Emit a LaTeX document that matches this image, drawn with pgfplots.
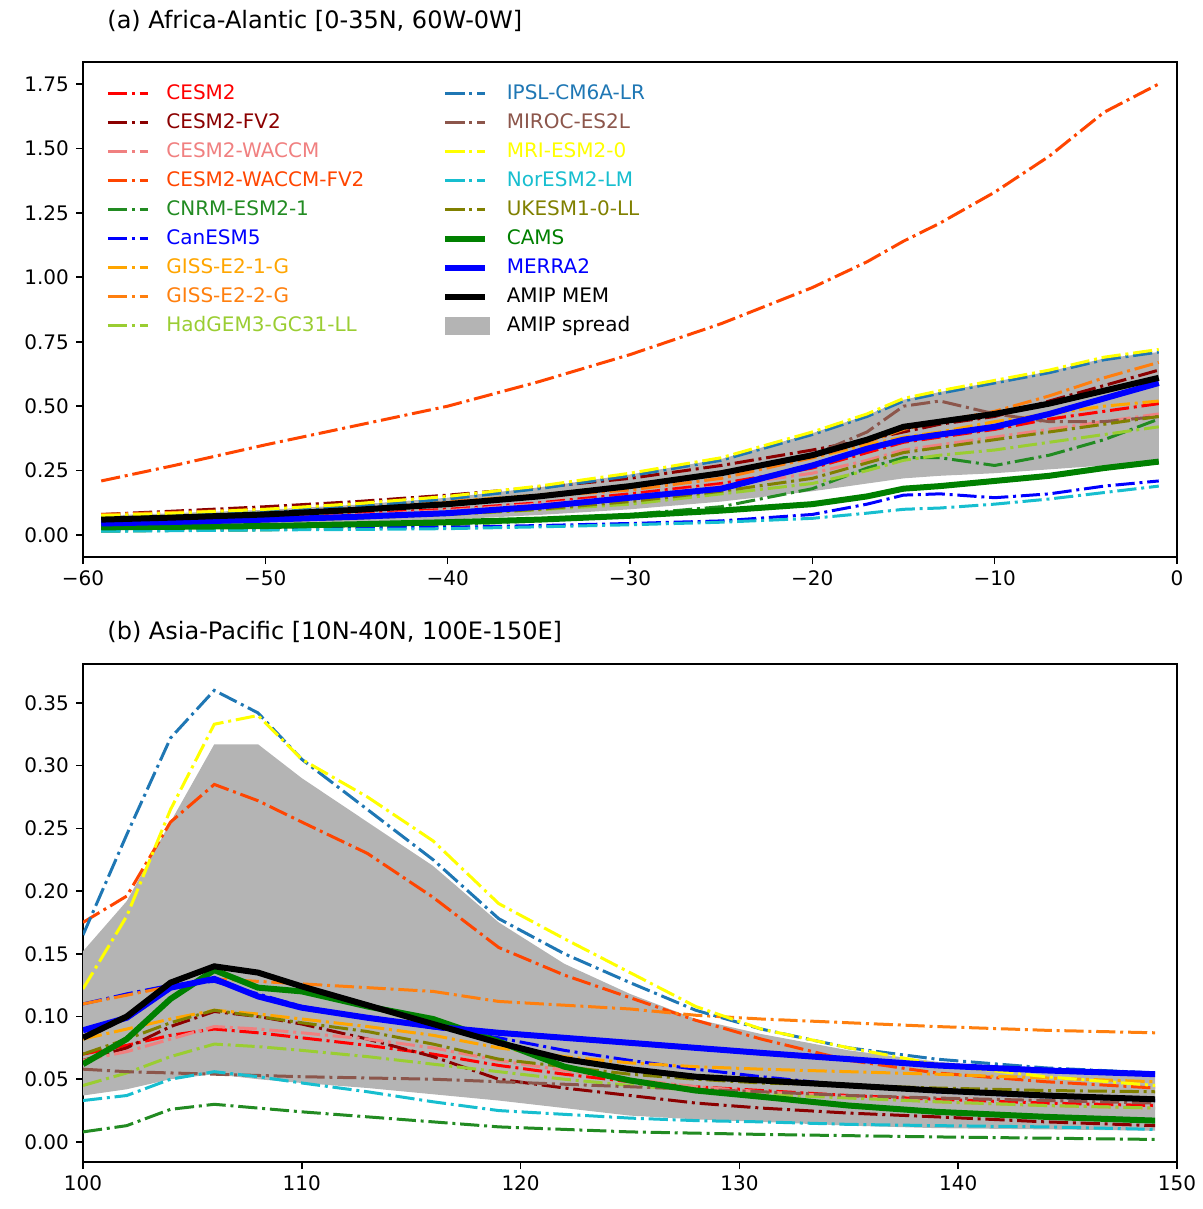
\documentclass[border=0pt]{standalone}
\usepackage{pgfplots}
\pgfplotsset{compat=1.18}
\usepackage{pgfplotstable}
\usepgfplotslibrary{fillbetween}
\usepackage{fontspec}
\setmainfont{DejaVu Sans}

\definecolor{cCESM}{HTML}{FF0000}
\definecolor{cFV}{HTML}{8B0000}
\definecolor{cWAC}{HTML}{F08080}
\definecolor{cWFV}{HTML}{FF4500}
\definecolor{cCNRM}{HTML}{228B22}
\definecolor{cCAN}{HTML}{0000FF}
\definecolor{cG1}{HTML}{FFA500}
\definecolor{cG2}{HTML}{FF7F0E}
\definecolor{cHAD}{HTML}{9ACD32}
\definecolor{cIPSL}{HTML}{1F77B4}
\definecolor{cMIROC}{HTML}{8C564B}
\definecolor{cMRI}{HTML}{FFFF00}
\definecolor{cNOR}{HTML}{17BECF}
\definecolor{cUK}{HTML}{808000}
\definecolor{cCAMS}{HTML}{008000}
\definecolor{cMERRA}{HTML}{0000FF}
\definecolor{cSPREAD}{HTML}{B4B4B4}

\pgfplotstableread{
x cesm2 fv2 waccm wfv2 cnrm canesm g1 g2 had ipsl miroc mri nor uk cams merra mem lo hi
-59 .050 .080 .050 .210 .015 .020 .070 .080 .040 .070 .060 .075 .015 .040 .030 .045 .060 .030 .075
-55 .058 .093 .056 .270 .018 .022 .078 .088 .046 .078 .068 .085 .017 .046 .032 .051 .068 .033 .085
-50 .070 .110 .065 .350 .020 .025 .090 .100 .055 .090 .080 .100 .020 .055 .035 .060 .080 .040 .098
-45 .083 .130 .078 .425 .030 .028 .108 .114 .066 .110 .098 .122 .022 .066 .042 .071 .098 .048 .118
-40 .100 .155 .095 .500 .040 .030 .130 .130 .080 .140 .120 .150 .025 .080 .050 .085 .120 .060 .145
-35 .125 .185 .120 .595 .055 .037 .155 .150 .098 .180 .150 .190 .032 .100 .060 .110 .150 .078 .185
-30 .160 .220 .150 .700 .080 .045 .190 .175 .120 .230 .190 .240 .040 .130 .075 .145 .190 .100 .235
-25 .200 .270 .190 .820 .110 .055 .240 .220 .160 .290 .240 .300 .050 .170 .095 .180 .240 .130 .295
-20 .260 .330 .240 .960 .180 .080 .300 .300 .200 .390 .310 .400 .065 .220 .120 .270 .310 .170 .395
-17 .320 .370 .290 1.060 .260 .120 .350 .360 .250 .460 .400 .470 .085 .280 .150 .335 .370 .200 .465
-15 .360 .400 .330 1.140 .300 .155 .380 .410 .290 .520 .500 .530 .100 .320 .180 .370 .420 .220 .525
-13 .380 .430 .350 1.210 .300 .160 .400 .440 .310 .550 .520 .560 .105 .340 .190 .390 .440 .230 .555
-10 .410 .460 .380 1.330 .270 .145 .440 .480 .330 .590 .470 .600 .120 .370 .210 .420 .470 .240 .595
-7 .450 .520 .410 1.470 .310 .160 .470 .540 .360 .630 .440 .640 .140 .400 .230 .470 .510 .255 .635
-4 .480 .580 .440 1.640 .370 .190 .500 .610 .390 .680 .440 .690 .165 .430 .260 .530 .560 .270 .685
-1 .510 .640 .470 1.750 .450 .210 .520 .670 .420 .710 .460 .720 .190 .460 .285 .590 .610 .280 .710
}\ta

\pgfplotstableread{
x cesm2 fv2 waccm wfv2 cnrm canesm g1 g2 had ipsl miroc mri nor uk cams merra mem lo hi
100 .070 .065 .065 .175 .008 .110 .082 .110 .045 .165 .058 .122 .033 .070 .062 .089 .083 .037 .152
102 .077 .075 .072 .196 .013 .118 .090 .117 .055 .245 .056 .180 .037 .082 .082 .099 .100 .042 .192
104 .085 .092 .082 .255 .026 .125 .098 .124 .068 .322 .055 .265 .050 .095 .114 .123 .127 .050 .255
106 .090 .104 .092 .285 .030 .128 .105 .130 .078 .360 .054 .333 .056 .105 .137 .130 .140 .054 .317
108 .087 .100 .090 .272 .027 .118 .102 .128 .076 .342 .053 .340 .052 .100 .123 .116 .135 .050 .317
110 .083 .094 .087 .255 .024 .108 .098 .126 .073 .305 .052 .305 .047 .095 .120 .107 .124 .047 .290
113 .077 .082 .082 .230 .020 .099 .092 .123 .068 .265 .051 .275 .040 .088 .108 .099 .109 .043 .255
116 .070 .068 .075 .195 .016 .091 .085 .120 .062 .225 .050 .240 .032 .078 .098 .092 .094 .038 .220
119 .061 .050 .065 .155 .012 .083 .075 .112 .056 .178 .048 .190 .025 .066 .080 .087 .079 .033 .175
122 .054 .043 .057 .133 .010 .073 .068 .109 .050 .150 .046 .162 .022 .060 .060 .083 .066 .027 .142
125 .048 .037 .050 .115 .008 .065 .063 .106 .045 .127 .044 .135 .019 .054 .049 .079 .058 .021 .118
128 .044 .031 .044 .097 .007 .058 .060 .101 .041 .105 .042 .108 .017 .050 .041 .075 .052 .018 .098
131 .041 .027 .040 .082 .006 .052 .058 .098 .038 .090 .040 .090 .016 .047 .036 .071 .049 .016 .086
135 .037 .023 .036 .065 .005 .045 .056 .095 .035 .075 .037 .075 .014 .045 .029 .066 .045 .013 .073
139 .034 .020 .032 .055 .004 .040 .054 .092 .032 .066 .035 .062 .013 .043 .024 .061 .041 .011 .064
144 .031 .016 .029 .048 .003 .036 .051 .089 .029 .059 .033 .052 .012 .041 .020 .057 .037 .010 .058
149 .029 .013 .027 .043 .002 .033 .048 .087 .027 .055 .031 .045 .010 .040 .017 .054 .034 .009 .053
}\tb

\pgfplotsset{
  mdl/.style={line width=1.5pt, dash pattern=on 9.6pt off 2.4pt on 1.5pt off 2.4pt},
  obs/.style={line width=3pt},
  common/.style={
    scale only axis, width=547pt,
    axis line style={line width=0.8pt},
    tick align=outside, major tick length=3.5pt,
    tick style={line width=0.8pt, black},
    xtick pos=lower, ytick pos=left,
    ticklabel style={font=\fontsize{10}{12}\selectfont},
    clip=true,
  },
}

\begin{document}
\begin{tikzpicture}

\begin{axis}[common, at={(41.5pt,-31pt)}, anchor=north west, height=247.5pt,
  xmin=-60, xmax=0, ymin=-0.085, ymax=1.835,
  xtick={-60,-50,-40,-30,-20,-10,0},
  xticklabels={−60,−50,−40,−30,−20,−10,0},
  ytick={0,0.25,0.5,0.75,1,1.25,1.5,1.75},
  yticklabels={0.00,0.25,0.50,0.75,1.00,1.25,1.50,1.75},
  legend columns=9, transpose legend, legend cell align=left,
  legend image code/.code={\draw[#1] (0pt,0pt) -- (20pt,0pt);},
  legend style={draw=none, fill=none, at={(0,1)}, anchor=north west,
    xshift=8.5pt, yshift=-9pt, font=\fontsize{10}{12}\selectfont,
    nodes={inner sep=0pt, text height=7.5pt, text depth=2pt},
    row sep=5pt,
    /tikz/every odd column/.append style={column sep=8.5pt},
    /tikz/every even column/.append style={column sep=39pt}},
]
\addplot[name path=hia, draw=none, forget plot] table[x=x,y=hi]{\ta};
\addplot[name path=loa, draw=none, forget plot] table[x=x,y=lo]{\ta};
\addplot[fill=cSPREAD, draw=none, forget plot] fill between[of=hia and loa];

\addplot[mdl, cCESM] table[x=x,y=cesm2]{\ta}; \addlegendentry[text=cCESM]{CESM2}
\addplot[mdl, cFV] table[x=x,y=fv2]{\ta}; \addlegendentry[text=cFV]{CESM2-FV2}
\addplot[mdl, cWAC] table[x=x,y=waccm]{\ta}; \addlegendentry[text=cWAC]{CESM2-WACCM}
\addplot[mdl, cWFV] table[x=x,y=wfv2]{\ta}; \addlegendentry[text=cWFV]{CESM2-WACCM-FV2}
\addplot[mdl, cCNRM] table[x=x,y=cnrm]{\ta}; \addlegendentry[text=cCNRM]{CNRM-ESM2-1}
\addplot[mdl, cCAN] table[x=x,y=canesm]{\ta}; \addlegendentry[text=cCAN]{CanESM5}
\addplot[mdl, cG1] table[x=x,y=g1]{\ta}; \addlegendentry[text=cG1]{GISS-E2-1-G}
\addplot[mdl, cG2] table[x=x,y=g2]{\ta}; \addlegendentry[text=cG2]{GISS-E2-2-G}
\addplot[mdl, cHAD] table[x=x,y=had]{\ta}; \addlegendentry[text=cHAD]{HadGEM3-GC31-LL}
\addplot[mdl, cIPSL] table[x=x,y=ipsl]{\ta}; \addlegendentry[text=cIPSL]{IPSL-CM6A-LR}
\addplot[mdl, cMIROC] table[x=x,y=miroc]{\ta}; \addlegendentry[text=cMIROC]{MIROC-ES2L}
\addplot[mdl, cMRI] table[x=x,y=mri]{\ta}; \addlegendentry[text=cMRI]{MRI-ESM2-0}
\addplot[mdl, cNOR] table[x=x,y=nor]{\ta}; \addlegendentry[text=cNOR]{NorESM2-LM}
\addplot[mdl, cUK] table[x=x,y=uk]{\ta}; \addlegendentry[text=cUK]{UKESM1-0-LL}
\addplot[obs, cCAMS] table[x=x,y=cams]{\ta}; \addlegendentry[text=cCAMS]{CAMS}
\addplot[obs, cMERRA] table[x=x,y=merra]{\ta}; \addlegendentry[text=cMERRA]{MERRA2}
\addplot[obs, black] table[x=x,y=mem]{\ta}; \addlegendentry[text=black]{AMIP MEM}
\addlegendimage{legend image code/.code={\fill[cSPREAD] (0pt,-4.25pt) rectangle (22pt,4.25pt);}}
\addlegendentry[text=black]{AMIP spread}
\end{axis}

\begin{axis}[common, at={(41.5pt,-332pt)}, anchor=north west, height=249pt,
  xmin=100, xmax=150, ymin=-0.016, ymax=0.381,
  xtick={100,110,120,130,140,150},
  xticklabels={100,110,120,130,140,150},
  ytick={0,0.05,0.1,0.15,0.2,0.25,0.3,0.35},
  yticklabels={0.00,0.05,0.10,0.15,0.20,0.25,0.30,0.35},
]
\addplot[name path=hib, draw=none] table[x=x,y=hi]{\tb};
\addplot[name path=lob, draw=none] table[x=x,y=lo]{\tb};
\addplot[fill=cSPREAD, draw=none] fill between[of=hib and lob];
\addplot[mdl, cCESM] table[x=x,y=cesm2]{\tb};
\addplot[mdl, cFV] table[x=x,y=fv2]{\tb};
\addplot[mdl, cWAC] table[x=x,y=waccm]{\tb};
\addplot[mdl, cWFV] table[x=x,y=wfv2]{\tb};
\addplot[mdl, cCNRM] table[x=x,y=cnrm]{\tb};
\addplot[mdl, cCAN] table[x=x,y=canesm]{\tb};
\addplot[mdl, cG1] table[x=x,y=g1]{\tb};
\addplot[mdl, cG2] table[x=x,y=g2]{\tb};
\addplot[mdl, cHAD] table[x=x,y=had]{\tb};
\addplot[mdl, cIPSL] table[x=x,y=ipsl]{\tb};
\addplot[mdl, cMIROC] table[x=x,y=miroc]{\tb};
\addplot[mdl, cMRI] table[x=x,y=mri]{\tb};
\addplot[mdl, cNOR] table[x=x,y=nor]{\tb};
\addplot[mdl, cUK] table[x=x,y=uk]{\tb};
\addplot[obs, cCAMS] table[x=x,y=cams]{\tb};
\addplot[obs, cMERRA] table[x=x,y=merra]{\tb};
\addplot[obs, black] table[x=x,y=mem]{\tb};
\end{axis}

\node[anchor=west, font=\fontsize{12}{14}\selectfont, inner sep=0pt] at (53.5pt,-10.5pt) {(a) Africa-Alantic [0-35N, 60W-0W]};
\node[anchor=west, font=\fontsize{12}{14}\selectfont, inner sep=0pt] at (53.5pt,-316pt) {(b) Asia-Pacific [10N-40N, 100E-150E]};
\pgfresetboundingbox
\useasboundingbox (0,0) rectangle (601.5pt,-604.5pt);
\end{tikzpicture}
\end{document}
